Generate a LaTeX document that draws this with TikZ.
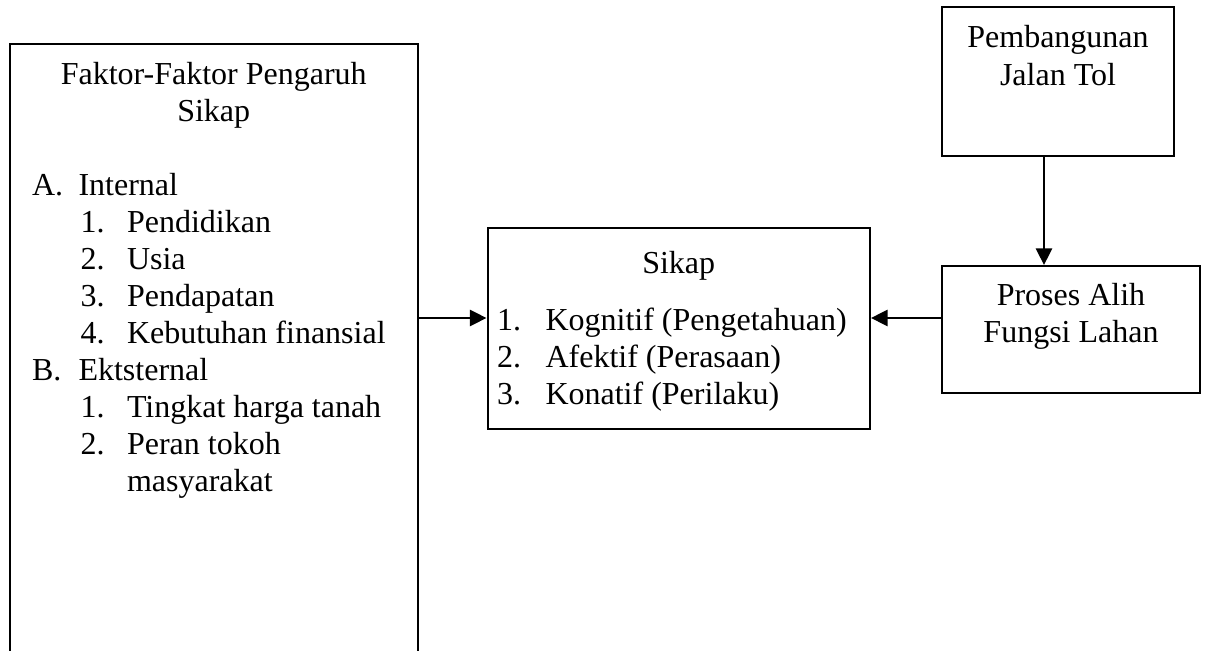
\documentclass[tikz,border=0pt]{standalone}
\usepackage{fontspec}
\setmainfont{Liberation Serif}
\usetikzlibrary{arrows.meta}

\newcommand{\px}{0.375pt}
\tikzset{
	kotak/.style={draw, line width=0.75pt, inner sep=0pt},
	teks/.style={inner sep=0pt, font=\fontsize{12}{13.8}\selectfont},
	panah/.style={-{Triangle[length=6.2pt,width=6pt]}, line width=1pt}
}

\begin{document}
\begin{tikzpicture}[x=\px,y=-\px]
			\useasboundingbox (0,0) rectangle (1208,651);
			\clip (0,0) rectangle (1208,651);
			
			% kotak-kotak
			\node[kotak, minimum width=408.5*\px, minimum height=656*\px] (faktor) at (213.75,372) {};
			\node[kotak, minimum width=382.5*\px, minimum height=201*\px] (sikap) at (678.75,328.5) {};
			\node[kotak, minimum width=232*\px, minimum height=148.7*\px] (jalan) at (1058,81.65) {};
			\node[kotak, minimum width=258*\px, minimum height=127*\px] (alih) at (1071,329.5) {};
			
			% isi kotak kiri
			\node[teks,anchor=base] (faktor-j1) at (213.75,84.3) {Faktor-Faktor Pengaruh};
			\node[teks,anchor=base] (faktor-j2) at (213.75,121.3) {Sikap};
			
			\node[teks,anchor=base west] (ia) at (31.5,195.5) {A.};
			\node[teks,anchor=base west] (ia-t) at (78,195.5) {Internal};
			\node[teks,anchor=base west] (i1) at (80,232.5) {1.};
			\node[teks,anchor=base west] (i1-t) at (126.5,232.5) {Pendidikan};
			\node[teks,anchor=base west] (i2) at (80,269.5) {2.};
			\node[teks,anchor=base west] (i2-t) at (126.5,269.5) {Usia};
			\node[teks,anchor=base west] (i3) at (80,306.5) {3.};
			\node[teks,anchor=base west] (i3-t) at (126.5,306.5) {Pendapatan};
			\node[teks,anchor=base west] (i4) at (80,343.5) {4.};
			\node[teks,anchor=base west] (i4-t) at (126.5,343.5) {Kebutuhan finansial};
			
			\node[teks,anchor=base west] (eb) at (31.5,380.5) {B.};
			\node[teks,anchor=base west] (eb-t) at (78,380.5) {Ektsternal};
			\node[teks,anchor=base west] (e1) at (80,417.5) {1.};
			\node[teks,anchor=base west] (e1-t) at (126.5,417.5) {Tingkat harga tanah};
			\node[teks,anchor=base west] (e2) at (80,454.5) {2.};
			\node[teks,anchor=base west] (e2-t) at (126.5,454.5) {Peran tokoh};
			\node[teks,anchor=base west] (e2-t2) at (126.5,491.5) {masyarakat};
			
			% isi kotak tengah
			\node[teks,anchor=base] (sikap-j) at (678.75,274) {Sikap};
			\node[teks,anchor=base west] (s1) at (496.5,331) {1.};
			\node[teks,anchor=base west] (s1-t) at (545,331) {Kognitif (Pengetahuan)};
			\node[teks,anchor=base west] (s2) at (496.5,368) {2.};
			\node[teks,anchor=base west] (s2-t) at (545,368) {Afektif (Perasaan)};
			\node[teks,anchor=base west] (s3) at (496.5,405) {3.};
			\node[teks,anchor=base west] (s3-t) at (545,405) {Konatif (Perilaku)};
			
			% isi kotak kanan
			\node[teks,anchor=base] (jalan-1) at (1058,48) {Pembangunan};
			\node[teks,anchor=base] (jalan-2) at (1058,85.5) {Jalan Tol};
			\node[teks,anchor=base] (alih-1) at (1071,305.5) {Proses Alih};
			\node[teks,anchor=base] (alih-2) at (1071,342.5) {Fungsi Lahan};
			
			% panah
			\coordinate (baris) at (0,318);
			\coordinate (kolom) at (1044,0);
			\draw[panah] (faktor.east |- baris) -- (sikap.west |- baris);
			\draw[panah] (alih.west |- baris) -- (sikap.east |- baris);
			\draw[panah] (jalan.south -| kolom) -- (alih.north -| kolom);
	
		\end{tikzpicture}
\end{document}
